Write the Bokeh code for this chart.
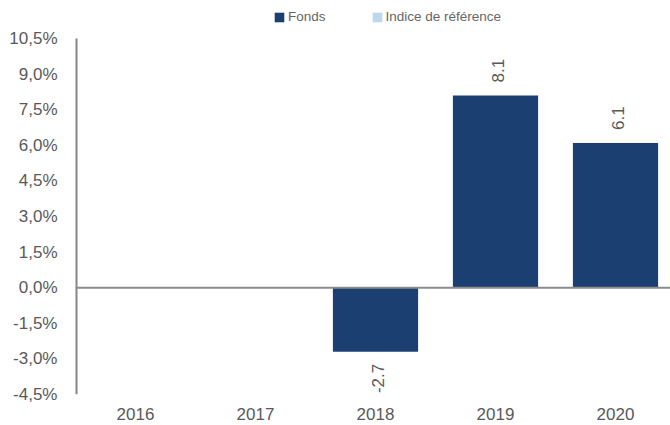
from bokeh.plotting import figure
from bokeh.models import ColumnDataSource, Range1d, Span, Legend, LegendItem, FixedTicker
from bokeh.core.properties import value
from bokeh.embed import file_html
from bokeh.resources import INLINE
import math

years = ["2016", "2017", "2018", "2019", "2020"]
fonds = [None, None, -2.7, 8.1, 6.1]
indice = [None, None, None, None, None]
y_ticks = [-4.5, -3.0, -1.5, 0.0, 1.5, 3.0, 4.5, 6.0, 7.5, 9.0, 10.5]
y_tick_labels = ["-4,5%", "-3,0%", "-1,5%", "0,0%", "1,5%", "3,0%", "4,5%", "6,0%", "7,5%", "9,0%", "10,5%"]

FONT = "Liberation Sans"
DARK = "#1C3F72"
LIGHT = "#BDD7EE"
GREY = "#595959"

xs = list(range(1, len(years) + 1))
nan = float("nan")
fonds_v = [nan if v is None else v for v in fonds]
indice_v = [nan if v is None else v for v in indice]

y_min, y_max = y_ticks[0], y_ticks[-1]
axis_px = 356.0          # pixel height of the value axis
top_px = 38.0            # space above the axis top, holding the legend
y_top = y_max + top_px * (y_max - y_min) / axis_px

p = figure(width=670, height=425, output_backend="svg", toolbar_location=None,
           x_range=Range1d(0.5, 0.5 + 595 / 120), y_range=Range1d(y_min, y_top),
           min_border_left=75, min_border_right=0, min_border_top=0, min_border_bottom=31)
p.outline_line_color = None
p.grid.grid_line_color = None
p.background_fill_color = "white"
p.border_fill_color = "white"

src = ColumnDataSource(dict(x=xs, fonds=fonds_v, indice=indice_v))
r1 = p.vbar(x="x", top="fonds", bottom=0, width=0.71, source=src, fill_color=DARK, line_color=None)
r2 = p.vbar(x="x", top="indice", bottom=0, width=0.71, source=src, fill_color=LIGHT, line_color=None)

p.add_layout(Span(location=0, dimension="width", line_color="#8C8C8C", line_width=2))
# value axis line, from the lowest to the highest tick
p.segment(x0=[p.x_range.start], y0=[y_min], x1=[p.x_range.start], y1=[y_max],
          line_color="#868686", line_width=4)

pos = [(x, v) for x, v in zip(xs, fonds) if v is not None and v >= 0]
neg = [(x, v) for x, v in zip(xs, fonds) if v is not None and v < 0]
ps = ColumnDataSource(dict(x=[a for a, b in pos], y=[b for a, b in pos], t=[f"{b:.1f}" for a, b in pos]))
ns = ColumnDataSource(dict(x=[a for a, b in neg], y=[b for a, b in neg], t=[f"{b:.1f}" for a, b in neg]))
p.text(x="x", y="y", text="t", source=ps, angle=math.pi / 2, text_align="left", text_baseline="middle",
       x_offset=2, y_offset=-13, text_font=value(FONT), text_font_size="17px", text_color=GREY)
p.text(x="x", y="y", text="t", source=ns, angle=math.pi / 2, text_align="right", text_baseline="middle",
       x_offset=2, y_offset=12, text_font=value(FONT), text_font_size="17px", text_color=GREY)

# axes
p.xaxis.ticker = FixedTicker(ticks=xs)
p.xaxis.major_label_overrides = {x: y for x, y in zip(xs, years)}
p.xaxis.axis_line_color = None
p.xaxis.major_tick_line_color = None
p.xaxis.minor_tick_line_color = None
p.xaxis.major_label_standoff = 7
p.xaxis.major_label_text_font = FONT
p.xaxis.major_label_text_font_size = "17px"
p.xaxis.major_label_text_color = GREY

p.yaxis.ticker = FixedTicker(ticks=y_ticks)
p.yaxis.major_label_overrides = {t: l for t, l in zip(y_ticks, y_tick_labels)}
p.yaxis.axis_line_color = None
p.yaxis.major_tick_line_color = None
p.yaxis.minor_tick_line_color = None
p.yaxis.major_label_standoff = 12
p.yaxis.major_label_text_font = FONT
p.yaxis.major_label_text_font_size = "17px"
p.yaxis.major_label_text_color = GREY

legend = Legend(items=[LegendItem(label="Fonds", renderers=[r1]),
                       LegendItem(label="Indice de référence", renderers=[r2])],
                orientation="horizontal", location=(198, 370),
                label_text_font=FONT, label_text_font_size="13.5px", label_text_color="#666666",
                glyph_width=12, glyph_height=12, label_standoff=3, spacing=45,
                padding=0, margin=0, border_line_color=None, background_fill_alpha=0)
p.add_layout(legend, "center")

open("out.html", "w").write(file_html(p, INLINE))
